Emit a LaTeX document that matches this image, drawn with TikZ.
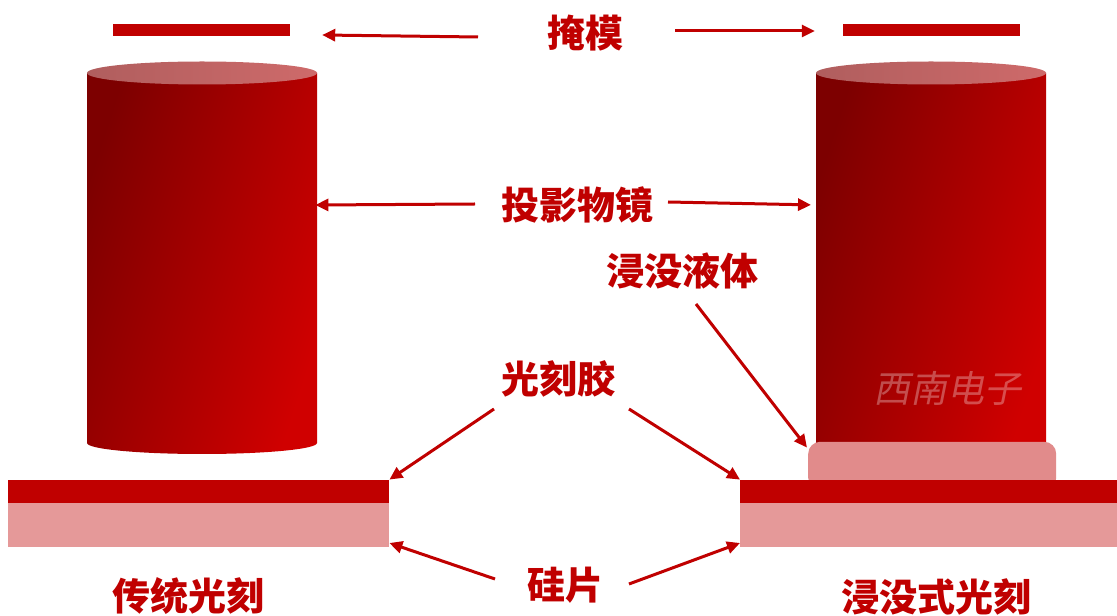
\documentclass[tikz,border=0pt]{standalone}
\usepackage{fontspec}
\setmainfont{Noto Sans CJK SC}
\newfontfamily\cjk{Noto Sans CJK SC}
\newfontfamily\markfont[FakeSlant=0.2]{Noto Sans CJK SC}
\usepackage{tikz}
\usetikzlibrary{arrows.meta, positioning, calc}
\definecolor{darkred}{RGB}{192, 0, 0}
\definecolor{lensdark}{RGB}{125, 0, 0}
\definecolor{lensbright}{RGB}{208, 0, 0}
\definecolor{topdark}{RGB}{176, 94, 94}
\definecolor{topbright}{RGB}{206, 106, 106}
\definecolor{siliconpink}{RGB}{229, 153, 153}
\definecolor{liquidpink}{RGB}{225, 139, 139}

\begin{document}
\begin{tikzpicture}[x=1pt, y=1pt,
    lbl/.style={font=\cjk\bfseries\fontsize{38}{40}\selectfont, text=darkred, inner sep=0pt},
    maskbar/.style={rectangle, fill=darkred, minimum width=177, minimum height=12, inner sep=0pt},
    lensbody/.style={top color=lensdark, bottom color=lensbright, shading angle=72},
    lenstop/.style={left color=topdark, right color=topbright},
    resistlayer/.style={rectangle, fill=darkred, minimum height=23, inner sep=0pt, anchor=south west},
    silayer/.style={rectangle, fill=siliconpink, minimum height=44, inner sep=0pt, anchor=south west},
    pointer/.style={-{Triangle[length=13pt, width=12pt]}, line width=3pt, darkred}
]
\useasboundingbox (0,0) rectangle (1117,616);
\fill[white] (0,0) rectangle (1117,616);

% Masks
\node (maskL) [maskbar] at (201.5,586) {};
\node (maskR) [maskbar] at (931.5,586) {};

% Projection lenses
\foreach \x/\nm in {87/lensL, 816/lensR} {
  \shade[lensbody] (\x,543) -- (\x,173) arc[start angle=180, end angle=360, x radius=115, y radius=11] -- (\x+230,543) -- cycle;
  \shade[lenstop] (\x+115,543) ellipse[x radius=115, y radius=11.5];
  \node (\nm) [inner sep=0pt, minimum width=230, minimum height=370, anchor=south west] at (\x,173) {};
}
\node (mark) [font=\markfont\fontsize{37}{40}\selectfont, text=white, text opacity=0.3] at (947,228) {西南电子};

% Immersion liquid film
\node (film) [rectangle, fill=liquidpink, rounded corners=12, minimum width=248, minimum height=48, inner sep=0pt, anchor=south west] at (808,126) {};
\coordinate (filmtop) at (film.north west);

% Wafers with resist
\node (siL)     [silayer, minimum width=381] at (8,69) {};
\node (resistL) [resistlayer, minimum width=381] at (8,113) {};
\node (siR)     [silayer, minimum width=377] at (740,69) {};
\node (resistR) [resistlayer, minimum width=377] at (740,113) {};

% Labels
\node (mask)      [lbl] at (585,583) {掩模};
\node (lens)      [lbl] at (577,411) {投影物镜};
\node (liquid)    [lbl] at (682,345) {浸没液体};
\node (resist)    [lbl] at (558,237) {光刻胶};
\node (silicon)   [lbl] at (565,31)  {硅片};
\node (conv)      [lbl] at (188,20)  {传统光刻};
\node (immersion) [lbl] at (936,19)  {浸没式光刻};

% Pointers
\draw [pointer] ([shift={(-107,-4)}]mask.center) -- ([shift={(32,-5)}]maskL.east);
\draw [pointer] ([shift={(90,2)}]mask.center) -- ([shift={(-28,-1)}]maskR.west);
\draw [pointer, shorten >=-2pt] ([shift={(-102,1)}]lens.center) -- (lensL.east |- lens.center);
\draw [pointer, shorten >=5pt] ([shift={(91,3)}]lens.center) -- (lensR.west |- lens.center);
\draw [pointer] ([shift={(14,-33)}]liquid.center) -- ([shift={(-1,-6)}]filmtop);
\draw [pointer] ([shift={(-64,-30)}]resist.center) -- (resistL.north east);
\draw [pointer] ([shift={(71,-30)}]resist.center) -- (resistR.north west);
\draw [pointer] ([shift={(-70,6)}]silicon.center) -- ([yshift=4pt]siL.south east);
\draw [pointer] ([shift={(64,1)}]silicon.center) -- ([yshift=4pt]siR.south west);

\end{tikzpicture}
\end{document}
